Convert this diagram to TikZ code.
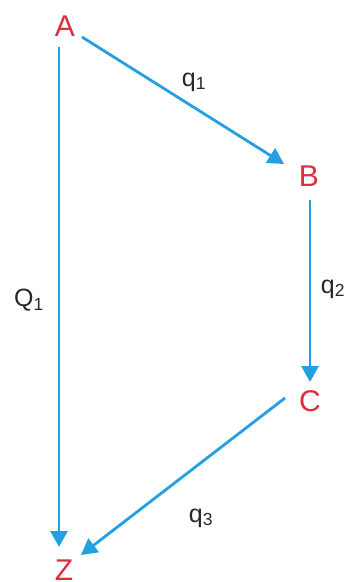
\documentclass[tikz,border=0pt]{standalone}
\usepackage{fontspec}
\setmainfont{Liberation Sans}
\usetikzlibrary{arrows.meta}
\definecolor{ptred}{RGB}{222,45,60}
\definecolor{arrblue}{RGB}{35,160,225}
\definecolor{lblgray}{RGB}{40,40,40}
\tikzset{
  pt/.style={text=ptred, font=\fontsize{30}{30}\selectfont, inner sep=0pt},
  lbl/.style={text=lblgray, font=\fontsize{25}{25}\selectfont, inner sep=0pt},
  arr/.style={draw=arrblue, line width=2.8pt, -{Triangle[length=16pt,width=17pt]}}
}
\begin{document}
\begin{tikzpicture}[x=1pt,y=1pt]
\useasboundingbox (0,0) rectangle (352,-582);
\node[pt] (A) at (65,-26) {A};
\node[pt] (B) at (309,-176) {B};
\node[pt] (C) at (310,-401) {C};
\node[pt] (Z) at (64,-570) {Z};
\node[lbl] (l1) at (194,-82) {q\textsubscript{1}};
\node[lbl] (l2) at (333,-289) {q\textsubscript{2}};
\node[lbl] (l3) at (29,-300) {Q\textsubscript{1}};
\node[lbl] (l4) at (201,-518) {q\textsubscript{3}};
\draw[arr] ([xshift=17pt,yshift=-11pt]A.center) -- ([xshift=-25pt,yshift=12pt]B.center);
\draw[arr] ([xshift=1pt,yshift=-24pt]B.center) -- ([yshift=19pt]C.center);
\draw[arr] ([xshift=-25pt,yshift=3pt]C.center) -- ([xshift=17pt,yshift=15pt]Z.center);
\draw[arr] ([xshift=-6pt,yshift=-21pt]A.center) -- ([xshift=-5pt,yshift=23pt]Z.center);
\end{tikzpicture}
\end{document}
